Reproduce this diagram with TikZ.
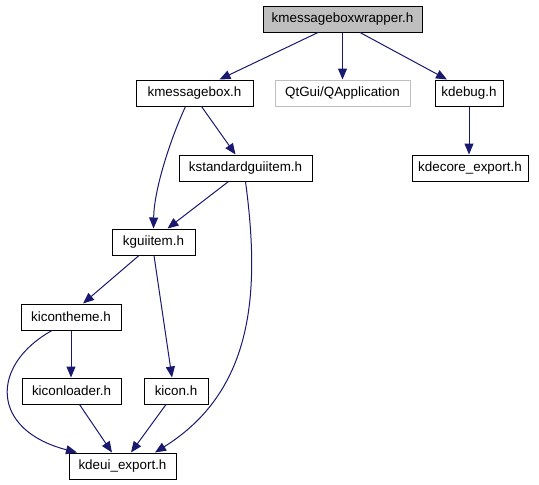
\documentclass[tikz,border=0pt]{standalone}
\usepackage{fontspec}
\setmainfont{Liberation Sans}
\usetikzlibrary{arrows.meta,calc}
\definecolor{edgeblue}{HTML}{191970}
\definecolor{rootgray}{HTML}{BFBFBF}
\tikzset{
  box/.style={draw=black, fill=white, line width=1pt, minimum height=26pt, inner sep=0pt,
    font=\fontsize{13.4}{15}\selectfont, text=black},
  rootbox/.style={box, fill=rootgray},
  extbox/.style={box, draw=rootgray},
  dep/.style={draw=edgeblue, line width=1pt, -{Triangle[length=11pt,width=9pt]}},
}
\begin{document}
\begin{tikzpicture}[x=1pt,y=-1pt]
\useasboundingbox[fill=white] (0,0) rectangle (539,485);
\node[rootbox, minimum width=159pt] (kmw) at (342.5,19) {kmessageboxwrapper.h};
\node[box, minimum width=117pt] (kmb) at (194.5,93) {kmessagebox.h};
\node[extbox, minimum width=135pt] (qapp) at (342.5,93) {QtGui/QApplication};
\node[box, minimum width=68pt] (kdebug) at (469,93) {kdebug.h};
\node[box, minimum width=133pt] (ksgi) at (245.5,168) {kstandardguiitem.h};
\node[box, minimum width=116pt] (kdecore) at (470,168) {kdecore\_export.h};
\node[box, minimum width=83pt] (kgui) at (153.5,242) {kguiitem.h};
\node[box, minimum width=100pt] (kith) at (71,317) {kicontheme.h};
\node[box, minimum width=99pt] (kil) at (71.5,391) {kiconloader.h};
\node[box, minimum width=64pt] (kicon) at (176,391) {kicon.h};
\node[box, minimum width=107pt] (kdeui) at (122.5,466) {kdeui\_export.h};

\draw[dep] ($(kmw.south)+(-24.5,0)$) -- ($(kmb.north)+(25,0)$);
\draw[dep] (kmw.south) -- (qapp.north);
\draw[dep] ($(kmw.south)+(17.5,0)$) -- ($(kdebug.north)+(-22,0)$);
\draw[dep] (kdebug.south) -- (kdebug.south |- kdecore.north);
\draw[dep] ($(kmb.south)+(-9,0)$) .. controls (170,140) and (154,190) .. (kgui.north);
\draw[dep] ($(kmb.south)+(7,0)$) -- ($(ksgi.north)+(-10,0)$);
\draw[dep] ($(ksgi.south)+(-17,0)$) -- ($(kgui.north)+(14,0)$);
\draw[dep] (ksgi.south) .. controls (260,290) and (255,390) .. ($(kdeui.north)+(32.5,0)$);
\draw[dep] ($(kgui.south)+(-14.5,0)$) -- ($(kith.north)+(12,0)$);
\draw[dep] ($(kgui.south)+(0.5,0)$) -- ($(kicon.north)+(-4,0)$);
\draw[dep] (kith.south) -- (kith.south |- kil.north);
\draw[dep] ($(kith.south)+(-19,0)$) .. controls (-10,365) and (-10,430) .. ($(kdeui.north)+(-45.5,0)$);
\draw[dep] ($(kil.south)+(8,0)$) -- ($(kdeui.north)+(-10.5,0)$);
\draw[dep] ($(kicon.south)+(-10,0)$) -- ($(kdeui.north)+(8.5,0)$);
\end{tikzpicture}
\end{document}
